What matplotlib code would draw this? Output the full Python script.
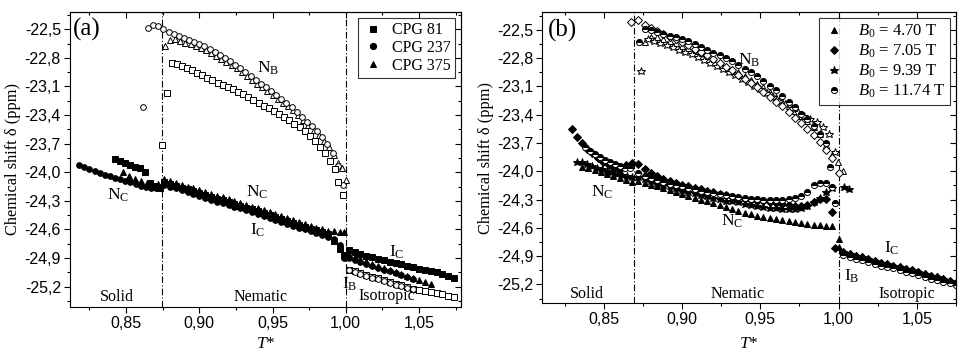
import matplotlib
matplotlib.use('Agg')
import matplotlib.pyplot as plt
from matplotlib.ticker import FixedLocator, MultipleLocator, FuncFormatter

plt.rcParams['font.family'] = 'Liberation Serif'
plt.rcParams['mathtext.fontset'] = 'custom'
plt.rcParams['mathtext.rm'] = 'Liberation Serif'
plt.rcParams['mathtext.it'] = 'Liberation Serif:italic'

# ---------------- panel (a): pore sizes ----------------
a_labels = ['CPG 81', 'CPG 237', 'CPG 375']

# solid phase (filled)
a_sol81_t = [0.8425, 0.8459, 0.8493, 0.8527, 0.8561, 0.8595, 0.8629, 0.8663, 0.8697, 0.8731]
a_sol81_d = [-23.86, -23.88, -23.90, -23.92, -23.94, -23.96, -24.00, -24.11, -24.14, -24.16]
a_sol237_t = [0.818, 0.8215, 0.825, 0.8285, 0.832, 0.8355, 0.839, 0.8425, 0.846, 0.8495, 0.853,
              0.8565, 0.860, 0.8635, 0.867, 0.8705, 0.873]
a_sol237_d = [-23.92, -23.95, -23.97, -23.99, -24.01, -24.03, -24.04, -24.06, -24.07, -24.09, -24.10,
              -24.12, -24.14, -24.15, -24.16, -24.16, -24.15]
a_sol375_t = [0.848, 0.852, 0.856, 0.860, 0.864, 0.868, 0.872]
a_sol375_d = [-24.00, -24.04, -24.07, -24.09, -24.11, -24.12, -24.12]

# nematic, N_C branch (filled)
a_nem_t = [0.876, 0.880, 0.884, 0.888, 0.892, 0.896, 0.900, 0.904, 0.908, 0.912, 0.916, 0.920,
           0.924, 0.928, 0.932, 0.936, 0.940, 0.944, 0.948, 0.952, 0.956, 0.960, 0.964, 0.968,
           0.972, 0.976, 0.980, 0.984, 0.988, 0.992, 0.996, 0.999]
a_nem81_d = [-24.10, -24.12, -24.14, -24.16, -24.18, -24.20, -24.22, -24.24, -24.26, -24.28, -24.29,
             -24.31, -24.33, -24.35, -24.37, -24.39, -24.41, -24.43, -24.45, -24.47, -24.49, -24.51,
             -24.53, -24.55, -24.57, -24.59, -24.61, -24.63, -24.65, -24.72, -24.80, -24.87]
a_nem237_d = [-24.13, -24.15, -24.17, -24.19, -24.21, -24.23, -24.25, -24.27, -24.29, -24.31, -24.32,
              -24.34, -24.36, -24.38, -24.40, -24.42, -24.44, -24.46, -24.48, -24.50, -24.52, -24.54,
              -24.56, -24.58, -24.60, -24.62, -24.64, -24.66, -24.68, -24.70, -24.76, -24.90]
a_nem375_d = [-24.07, -24.09, -24.11, -24.13, -24.15, -24.17, -24.19, -24.21, -24.23, -24.25, -24.26,
              -24.28, -24.30, -24.32, -24.34, -24.36, -24.38, -24.40, -24.42, -24.44, -24.46, -24.48,
              -24.50, -24.52, -24.54, -24.56, -24.58, -24.60, -24.62, -24.62, -24.63, -24.63]

# nematic, N_B branch (open)
a_nb81_t = [0.8744, 0.8778, 0.8812, 0.8845, 0.888, 0.8915, 0.895, 0.8985, 0.902, 0.9055, 0.909,
            0.9125, 0.916, 0.9195, 0.923, 0.9265, 0.930, 0.9335, 0.937, 0.9405, 0.944, 0.9475,
            0.951, 0.9545, 0.958, 0.9615, 0.965, 0.9685, 0.972, 0.9755, 0.979, 0.9825, 0.986,
            0.9895, 0.9925, 0.9945, 0.9978]
a_nb81_d = [-23.71, -23.17, -22.855, -22.86, -22.89, -22.91, -22.93, -22.96, -22.98, -23.01, -23.03,
            -23.06, -23.08, -23.11, -23.13, -23.16, -23.18, -23.21, -23.24, -23.27, -23.30, -23.33,
            -23.36, -23.39, -23.42, -23.45, -23.49, -23.53, -23.57, -23.62, -23.67, -23.73, -23.80,
            -23.88, -23.97, -24.10, -24.24]
a_nb237_t = [0.8618, 0.8652, 0.8687, 0.872, 0.8755, 0.879, 0.8825, 0.886, 0.8895, 0.893, 0.8965,
             0.900, 0.9035, 0.907, 0.9105, 0.914, 0.9175, 0.921, 0.9245, 0.928, 0.9315, 0.935,
             0.9385, 0.942, 0.9455, 0.949, 0.9525, 0.956, 0.9595, 0.963, 0.9665, 0.970, 0.9735,
             0.977, 0.9805, 0.984, 0.9875, 0.991, 0.9945, 0.9978]
a_nb237_d = [-23.315, -22.49, -22.455, -22.47, -22.50, -22.53, -22.55, -22.57, -22.59, -22.61, -22.63,
             -22.66, -22.68, -22.71, -22.74, -22.77, -22.80, -22.83, -22.87, -22.91, -22.95, -22.99,
             -23.03, -23.07, -23.11, -23.15, -23.19, -23.23, -23.27, -23.32, -23.37, -23.42, -23.47,
             -23.52, -23.57, -23.63, -23.70, -23.80, -23.93, -24.13]
a_nb375_t = [0.8766, 0.880, 0.8835, 0.887, 0.8905, 0.894, 0.8975, 0.901, 0.9045, 0.908, 0.9115,
             0.915, 0.9185, 0.922, 0.9255, 0.929, 0.9325, 0.936, 0.9395, 0.943, 0.9465, 0.950,
             0.9535, 0.957, 0.9605, 0.964, 0.9675, 0.971, 0.9745, 0.978, 0.9815, 0.985, 0.9885,
             0.992, 0.995, 0.9975, 1.000]
a_nb375_d = [-22.68, -22.61, -22.60, -22.62, -22.64, -22.66, -22.68, -22.70, -22.72, -22.75, -22.78,
             -22.81, -22.84, -22.87, -22.91, -22.95, -22.99, -23.03, -23.07, -23.11, -23.15, -23.19,
             -23.23, -23.27, -23.31, -23.35, -23.40, -23.45, -23.50, -23.56, -23.61, -23.67, -23.74,
             -23.82, -23.90, -23.96, -24.08]

# isotropic
a_iso_t = [1.002, 1.006, 1.010, 1.014, 1.018, 1.022, 1.026, 1.030, 1.034, 1.038, 1.042, 1.046,
           1.050, 1.054, 1.058, 1.062, 1.066, 1.070, 1.074]
a_ic81_d = [-24.82, -24.84, -24.86, -24.88, -24.89, -24.91, -24.92, -24.94, -24.95, -24.96, -24.98,
            -24.99, -25.01, -25.02, -25.04, -25.05, -25.07, -25.09, -25.11]
a_ic237_d = [-24.90, -24.92, -24.94, -24.96, -24.98, -25.00, -25.02, -25.04, -25.06, -25.08, -25.10,
             -25.12]
a_ic375_d = [-24.86, -24.89, -24.91, -24.93, -24.96, -24.98, -25.00, -25.03, -25.05, -25.07, -25.09,
             -25.11, -25.13, -25.15, -25.17]
a_ib81_d = [-25.02, -25.04, -25.06, -25.08, -25.10, -25.11, -25.13, -25.15, -25.17, -25.18, -25.20,
            -25.22, -25.23, -25.25, -25.26, -25.27, -25.28, -25.30, -25.31]
a_ib237_d = [-25.03, -25.05, -25.07, -25.09, -25.11, -25.12, -25.14, -25.16, -25.18, -25.19, -25.21,
             -25.22]

# ---------------- panel (b): field strengths ----------------
b_labels = ['$B_{0}$ = 4.70 T', '$B_{0}$ = 7.05 T', '$B_{0}$ = 9.39 T', '$B_{0}$ = 11.74 T']

b_sol470_t = [0.8361, 0.8400, 0.8440, 0.8480, 0.8520, 0.8560, 0.8600, 0.8640, 0.8680]
b_sol470_d = [-23.95, -23.97, -23.99, -24.01, -24.03, -24.05, -24.07, -24.09, -24.11]
b_sol705_t = [0.8293, 0.8325, 0.8357, 0.839, 0.8425, 0.846, 0.8495, 0.853, 0.8565, 0.860, 0.8639, 0.8681]
b_sol705_d = [-23.555, -23.64, -23.70, -23.76, -23.81, -23.86, -23.90, -23.93, -23.96, -23.98, -23.93, -23.915]
b_sol939_t = [0.8330, 0.8362, 0.8394, 0.8426, 0.8458, 0.8490, 0.8522, 0.8554, 0.8586, 0.8618, 0.8650, 0.8682]
b_sol939_d = [-23.90, -23.90, -23.92, -23.94, -23.96, -23.98, -24.00, -24.01, -24.03, -24.04, -24.05, -24.06]
b_sol1174_t = [0.8379, 0.8411, 0.8443, 0.8475, 0.8507, 0.8539, 0.8571, 0.8603, 0.8635, 0.8667]
b_sol1174_d = [-23.74, -23.78, -23.82, -23.85, -23.88, -23.90, -23.92, -23.94, -23.96, -23.97]

b_nem_t = [0.872, 0.876, 0.880, 0.884, 0.888, 0.892, 0.896, 0.900, 0.904, 0.908, 0.912, 0.916,
           0.920, 0.924, 0.928, 0.932, 0.936, 0.940, 0.944, 0.948, 0.952, 0.956, 0.960, 0.964,
           0.968, 0.972, 0.976, 0.980, 0.984, 0.988, 0.992, 0.996]
b_nc470_d = [-24.10, -24.12, -24.14, -24.16, -24.18, -24.20, -24.22, -24.24, -24.26, -24.28, -24.30,
             -24.32, -24.34, -24.36, -24.38, -24.40, -24.42, -24.44, -24.45, -24.47, -24.48, -24.50,
             -24.51, -24.52, -24.53, -24.54, -24.55, -24.56, -24.57, -24.57, -24.58, -24.58]
b_nc705_d = [-23.92, -23.98, -24.02, -24.05, -24.08, -24.10, -24.12, -24.14, -24.16, -24.18, -24.19,
             -24.21, -24.22, -24.24, -24.25, -24.27, -24.28, -24.29, -24.30, -24.31, -24.32, -24.33,
             -24.34, -24.35, -24.36, -24.37, -24.37, -24.36, -24.33, -24.29, -24.29, -24.43]
b_nc939_d = [-24.06, -24.08, -24.10, -24.12, -24.14, -24.16, -24.18, -24.20, -24.22, -24.23, -24.25,
             -24.26, -24.28, -24.29, -24.31, -24.32, -24.33, -24.35, -24.36, -24.37, -24.38, -24.39,
             -24.39, -24.40, -24.40, -24.40, -24.39, -24.37, -24.33, -24.28, -24.22, -24.18]
b_nc1174_d = [-24.02, -24.05, -24.07, -24.09, -24.11, -24.13, -24.15, -24.16, -24.18, -24.19, -24.21,
              -24.22, -24.23, -24.24, -24.25, -24.26, -24.27, -24.28, -24.29, -24.29, -24.30, -24.30,
              -24.30, -24.30, -24.29, -24.28, -24.26, -24.22, -24.15, -24.12, -24.12, -24.17]
b_nc_extra939_t = [1.0035, 1.0067]
b_nc_extra939_d = [-24.17, -24.19]
b_nc_extra1174_t = [0.998]
b_nc_extra1174_d = [-24.34]

b_nb470_t = [0.876, 0.880, 0.884, 0.888, 0.892, 0.896, 0.900, 0.904, 0.908, 0.912, 0.916, 0.920,
             0.924, 0.928, 0.932, 0.936, 0.940, 0.944, 0.948, 0.952, 0.956, 0.960, 0.964, 0.968,
             0.972, 0.976, 0.980, 0.984, 0.988, 0.992, 0.996, 0.9995, 1.003]
b_nb470_d = [-22.63, -22.57, -22.58, -22.60, -22.62, -22.64, -22.67, -22.69, -22.72, -22.75, -22.78,
             -22.81, -22.84, -22.88, -22.91, -22.95, -22.99, -23.03, -23.07, -23.11, -23.16, -23.21,
             -23.26, -23.31, -23.36, -23.41, -23.47, -23.53, -23.60, -23.72, -23.83, -23.90, -24.00]
b_nb705_t = [0.8671, 0.872, 0.876, 0.880, 0.884, 0.888, 0.892, 0.896, 0.900, 0.904, 0.908, 0.912,
             0.916, 0.920, 0.924, 0.928, 0.932, 0.936, 0.940, 0.944, 0.948, 0.952, 0.956, 0.960,
             0.964, 0.968, 0.972, 0.976, 0.980, 0.984, 0.988, 0.992, 0.996, 1.0003]
b_nb705_d = [-22.42, -22.40, -22.45, -22.48, -22.51, -22.54, -22.57, -22.60, -22.63, -22.66, -22.70,
             -22.73, -22.77, -22.81, -22.85, -22.89, -22.93, -22.98, -23.02, -23.06, -23.11, -23.16,
             -23.21, -23.26, -23.31, -23.37, -23.43, -23.49, -23.55, -23.62, -23.69, -23.77, -23.86,
             -24.02]
b_nb939_t = [0.8734, 0.878, 0.882, 0.886, 0.890, 0.894, 0.898, 0.902, 0.906, 0.910, 0.914, 0.918,
             0.922, 0.926, 0.930, 0.934, 0.938, 0.942, 0.946, 0.950, 0.954, 0.958, 0.962, 0.966,
             0.970, 0.974, 0.978, 0.982, 0.986, 0.990, 0.994, 0.998]
b_nb939_d = [-22.935, -22.60, -22.62, -22.64, -22.66, -22.68, -22.71, -22.73, -22.76, -22.79, -22.82,
             -22.85, -22.88, -22.91, -22.95, -22.98, -23.02, -23.05, -23.09, -23.13, -23.17, -23.21,
             -23.25, -23.29, -23.33, -23.37, -23.41, -23.44, -23.48, -23.53, -23.60, -23.79]
b_nb1174_t = [0.8724, 0.876, 0.880, 0.884, 0.888, 0.892, 0.896, 0.900, 0.904, 0.908, 0.912, 0.916,
              0.920, 0.924, 0.928, 0.932, 0.936, 0.940, 0.944, 0.948, 0.952, 0.956, 0.960, 0.964,
              0.968, 0.972, 0.976, 0.980, 0.984, 0.988, 0.992, 0.9945]
b_nb1174_d = [-22.63, -22.49, -22.50, -22.52, -22.54, -22.56, -22.58, -22.60, -22.62, -22.65, -22.68,
              -22.71, -22.74, -22.77, -22.80, -22.83, -22.87, -22.91, -22.95, -22.99, -23.04, -23.09,
              -23.14, -23.20, -23.26, -23.32, -23.39, -23.45, -23.52, -23.60, -23.70, -23.95]

b_iso_t = [1.003, 1.007, 1.011, 1.015, 1.019, 1.023, 1.027, 1.031, 1.035, 1.039, 1.043, 1.047,
           1.051, 1.055, 1.059, 1.063, 1.067, 1.071, 1.075]
b_iso_d = [-24.86, -24.88, -24.90, -24.91, -24.93, -24.95, -24.97, -24.98, -25.00, -25.02, -25.04,
           -25.05, -25.07, -25.09, -25.11, -25.12, -25.14, -25.16, -25.18]
b_iso1174_d = [-24.89, -24.91, -24.93, -24.94, -24.96, -24.98, -25.00, -25.01, -25.03, -25.05, -25.07,
               -25.08, -25.10, -25.12, -25.14, -25.15, -25.17, -25.19, -25.21]
b_jump470_t = [1.000, 1.0005]
b_jump470_d = [-24.72, -24.80]
b_jump705_t = [0.998]
b_jump705_d = [-24.81]

SANS = 'Liberation Sans'
FS = 11
TICK_FS = 11.5
X_MAJ = [0.85, 0.90, 0.95, 1.00, 1.05]
Y_MAJ = [-22.5, -22.8, -23.1, -23.4, -23.7, -24.0, -24.3, -24.6, -24.9, -25.2]


def comma(v, pos):
    s = '%.2f' % v if abs(v) < 2 else '%.1f' % v
    return s.replace('.', ',')


def style_axes(ax, xlim, ylim):
    ax.set_xlim(*xlim)
    ax.set_ylim(*ylim)
    ax.xaxis.set_major_locator(FixedLocator(X_MAJ))
    ax.xaxis.set_minor_locator(MultipleLocator(0.025))
    ax.yaxis.set_major_locator(FixedLocator(Y_MAJ))
    ax.yaxis.set_minor_locator(MultipleLocator(0.15))
    ax.xaxis.set_major_formatter(FuncFormatter(comma))
    ax.yaxis.set_major_formatter(FuncFormatter(comma))
    ax.tick_params(which='both', direction='out', top=False, right=False, width=0.8)
    ax.tick_params(which='major', length=4, labelsize=TICK_FS, pad=2.5)
    ax.tick_params(which='minor', length=2.2)
    for lab in ax.get_xticklabels() + ax.get_yticklabels():
        lab.set_family(SANS)
    # mirrored inward ticks on top and right
    top = ax.secondary_xaxis('top')
    top.xaxis.set_major_locator(FixedLocator(X_MAJ))
    top.xaxis.set_minor_locator(MultipleLocator(0.025))
    right = ax.secondary_yaxis('right')
    right.yaxis.set_major_locator(FixedLocator(Y_MAJ))
    right.yaxis.set_minor_locator(MultipleLocator(0.15))
    for sec, axis in ((top, top.xaxis), (right, right.yaxis)):
        sec.tick_params(which='both', direction='in', width=0.8)
        sec.tick_params(which='major', length=4)
        sec.tick_params(which='minor', length=2.2)
        axis.set_major_formatter(FuncFormatter(lambda v, p: ''))
    for sp in ax.spines.values():
        sp.set_linewidth(0.8)
    ax.set_ylabel('Chemical shift δ (ppm)', fontsize=FS + 0.8)
    ax.set_xlabel('$T$*', fontsize=FS + 1.5)


def sub(ax, t, d, main, s, fs=FS + 1.5):
    ax.text(t, d, main + '$_{\\mathrm{' + s + '}}$', fontsize=fs, ha='center', va='center')


fig = plt.figure(figsize=(9.59, 3.52), dpi=100)
ax1 = fig.add_axes([0.073, 0.1287, 0.4077, 0.837])
ax2 = fig.add_axes([0.5655, 0.1384, 0.4314, 0.8275])

dashdot = dict(color='black', lw=0.8, linestyle=(0, (6, 2, 1, 2)), zorder=1)
mk = dict(linestyle='none', markeredgecolor='black', markeredgewidth=0.7)

# ----- panel (a) -----
ax1.axvline(0.8748, **dashdot)
ax1.axvline(1.000, **dashdot)
op = dict(mk, markerfacecolor='white')
fl = dict(mk, markerfacecolor='black')
ax1.plot(a_nb375_t, a_nb375_d, marker='^', ms=4.4, **op)
ax1.plot(a_nb237_t, a_nb237_d, marker='o', ms=4.1, **op)
ax1.plot(a_nb81_t, a_nb81_d, marker='s', ms=3.7, **op)
ax1.plot(a_iso_t, a_ib81_d, marker='s', ms=3.7, **op)
ax1.plot(a_iso_t[:len(a_ib237_d)], a_ib237_d, marker='o', ms=4.1, **op)

ax1.plot(a_sol81_t + a_nem_t + a_iso_t, a_sol81_d + a_nem81_d + a_ic81_d,
         marker='s', ms=3.7, label=a_labels[0], **fl)
ax1.plot(a_sol237_t + a_nem_t + a_iso_t[:len(a_ic237_d)], a_sol237_d + a_nem237_d + a_ic237_d,
         marker='o', ms=4.1, label=a_labels[1], **fl)
ax1.plot(a_sol375_t + a_nem_t + a_iso_t[:len(a_ic375_d)], a_sol375_d + a_nem375_d + a_ic375_d,
         marker='^', ms=4.4, label=a_labels[2], **fl)

style_axes(ax1, (0.8117, 1.0787), (-25.41, -22.32))
ax1.yaxis.set_label_coords(-0.126, 0.5)
ax1.xaxis.set_label_coords(0.5, -0.100)
leg = ax1.legend(loc='upper right', fontsize=FS + 0.5, frameon=True, fancybox=False,
                 borderaxespad=0.35, handlelength=1.2, handletextpad=0.6,
                 labelspacing=0.1, borderpad=0.3, markerscale=1.1)
leg.get_frame().set_edgecolor('black')
leg.get_frame().set_linewidth(0.8)

ax1.text(0.043, 0.94, '(a)', transform=ax1.transAxes, fontsize=18, ha='center', va='center')
sub(ax1, 0.947, -22.905, 'N', 'B')
sub(ax1, 0.8445, -24.24, 'N', 'C')
sub(ax1, 0.9395, -24.21, 'N', 'C')
sub(ax1, 0.9395, -24.61, 'I', 'C')
sub(ax1, 1.035, -24.84, 'I', 'C')
sub(ax1, 1.0025, -25.17, 'I', 'B')
ax1.text(0.8439, -25.31, 'Solid', fontsize=FS + 0.5, ha='center', va='center')
ax1.text(0.9422, -25.31, 'Nematic', fontsize=FS + 0.5, ha='center', va='center')
ax1.text(1.0283, -25.30, 'Isotropic', fontsize=FS + 0.5, ha='center', va='center')

# ----- panel (b) -----
ax2.axvline(0.869, **dashdot)
ax2.axvline(1.000, **dashdot)
half = dict(mk, markerfacecolor='black', fillstyle='top', markerfacecoloralt='white')

ax2.plot(b_nb470_t, b_nb470_d, marker='^', ms=4.6, **op)
ax2.plot(b_nb939_t, b_nb939_d, marker='*', ms=6.2, **op)
ax2.plot(b_nb705_t, b_nb705_d, marker='D', ms=4.1, **op)
ax2.plot(b_nb1174_t, b_nb1174_d, marker='o', ms=4.4, **half)

ax2.plot(b_sol470_t + b_nem_t + b_jump470_t + b_iso_t, b_sol470_d + b_nc470_d + b_jump470_d + b_iso_d,
         marker='^', ms=4.6, label=b_labels[0], **fl)
ax2.plot(b_sol705_t + b_nem_t + b_jump705_t + b_iso_t, b_sol705_d + b_nc705_d + b_jump705_d + b_iso_d,
         marker='D', ms=4.1, label=b_labels[1], **fl)
ax2.plot(b_sol939_t + b_nem_t + b_nc_extra939_t + b_iso_t, b_sol939_d + b_nc939_d + b_nc_extra939_d + b_iso_d,
         marker='*', ms=6.2, label=b_labels[2], **fl)
ax2.plot(b_sol1174_t + b_nem_t + b_nc_extra1174_t + b_iso_t,
         b_sol1174_d + b_nc1174_d + b_nc_extra1174_d + b_iso1174_d,
         marker='o', ms=4.4, label=b_labels[3], **half)

style_axes(ax2, (0.8106, 1.0751), (-25.40, -22.31))
ax2.yaxis.set_label_coords(-0.117, 0.5)
ax2.xaxis.set_label_coords(0.5, -0.113)
leg2 = ax2.legend(loc='upper right', fontsize=FS + 1, frameon=True, fancybox=False,
                  borderaxespad=0.35, handlelength=1.2, handletextpad=0.8,
                  labelspacing=0.15, borderpad=0.3, markerscale=1.0)
leg2.get_frame().set_edgecolor('black')
leg2.get_frame().set_linewidth(0.8)

ax2.text(0.048, 0.938, '(b)', transform=ax2.transAxes, fontsize=18, ha='center', va='center')
sub(ax2, 0.9427, -22.82, 'N', 'B')
sub(ax2, 0.8487, -24.22, 'N', 'C')
sub(ax2, 0.932, -24.53, 'N', 'C')
sub(ax2, 1.0341, -24.82, 'I', 'C')
sub(ax2, 1.0086, -25.11, 'I', 'B')
ax2.text(0.8391, -25.30, 'Solid', fontsize=FS + 0.5, ha='center', va='center')
ax2.text(0.9357, -25.30, 'Nematic', fontsize=FS + 0.5, ha='center', va='center')
ax2.text(1.0437, -25.30, 'Isotropic', fontsize=FS + 0.5, ha='center', va='center')

fig.savefig('out.png', dpi=100)
